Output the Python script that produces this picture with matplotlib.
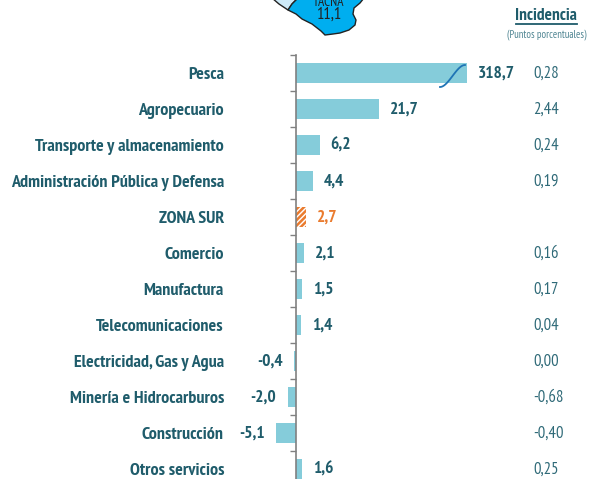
import numpy as np
import matplotlib
matplotlib.use("Agg")
import matplotlib.pyplot as plt
from matplotlib.patches import Polygon

# Datos
sectores = ["Pesca", "Agropecuario", "Transporte y almacenamiento",
            "Administración Pública y Defensa", "ZONA SUR", "Comercio",
            "Manufactura", "Telecomunicaciones", "Electricidad, Gas y Agua",
            "Minería e Hidrocarburos", "Construcción", "Otros servicios"]
variacion = [318.7, 21.7, 6.2, 4.4, 2.7, 2.1, 1.5, 1.4, -0.4, -2.0, -5.1, 1.6]
incidencia = ["0,28", "2,44", "0,24", "0,19", "", "0,16", "0,17", "0,04",
              "0,00", "-0,68", "-0,40", "0,25"]
etiquetas = ["318,7", "21,7", "6,2", "4,4", "2,7", "2,1", "1,5", "1,4",
             "-0,4", "-2,0", "-5,1", "1,6"]

W, H = 594, 479
oscuro = "#1f5c6b"
celeste = "#85ccda"
naranja = "#ea7b2e"

plt.rcParams['font.family'] = ['PT Sans Narrow', 'Liberation Sans', 'DejaVu Sans']
plt.rcParams['hatch.linewidth'] = 1.8
fig = plt.figure(figsize=(W/100, H/100), dpi=100)

# capa en pixeles para el mapa y los titulos
bg = fig.add_axes([0, 0, 1, 1])
bg.set_xlim(0, W)
bg.set_ylim(H, 0)
bg.axis("off")

mapa_tacna = [(298, -2), (292, 4), (288, 10), (296, 14), (302, 19), (312, 24), (321, 31),
              (325, 35), (333, 34), (340, 33), (349, 30), (355, 25), (356, 20), (353, 14),
              (354, 8), (360, 3), (364, -2)]
mapa_vecino = [(272, -2), (279, 4), (288, 10), (292, 4), (298, -2)]
bg.add_patch(Polygon(mapa_vecino, fc="#cdeaf8", ec="#222222", lw=1))
bg.add_patch(Polygon(mapa_tacna, fc="#00aeef", ec="#222222", lw=1))
bg.text(329, 2, "TACNA", ha="center", va="center", fontsize=9.5, color="#222222")
bg.text(329, 15, "11,1", ha="center", va="center", fontsize=12, color="#222222")

bg.text(546, 16, "Incidencia", ha="center", va="center", fontsize=12.5,
        fontweight="bold", color=oscuro)
bg.plot([516, 577], [24, 24], color=oscuro, lw=1.3)
bg.text(547, 35, "(Puntos porcentuales)", ha="center", va="center", fontsize=7.7,
        color="#4f8592")

# barras
x0, x1 = 296, 467
y0, y1 = 55, 487
ax = fig.add_axes([x0/W, 1-y1/H, (x1-x0)/W, (y1-y0)/H])
ax.patch.set_alpha(0)
escala = 83/21.7
ax.set_xlim(0, (x1-x0)/escala)
ax.set_ylim(len(sectores)-0.5, -0.5)
pos = np.arange(len(sectores))
barras = ax.barh(pos, variacion, height=0.58, color=celeste)

# las negativas salen a la izquierda del eje, asi que van sin recorte
for b, v in zip(barras, variacion):
    if v < 0:
        b.set_clip_on(False)
i_sur = sectores.index("ZONA SUR")
barras[i_sur].set_facecolor("white")
barras[i_sur].set_edgecolor(naranja)
barras[i_sur].set_hatch("//////")
barras[i_sur].set_linewidth(0)

for sp in ["top", "right", "bottom"]:
    ax.spines[sp].set_visible(False)
ax.spines["left"].set_color("#808080")
ax.spines["left"].set_linewidth(1.2)
ax.set_xticks([])
ax.set_yticks(pos-0.5)
ax.set_yticklabels([])
ax.tick_params(axis="y", length=4, width=1, color="#808080")

for i, s in enumerate(sectores):
    ax.annotate(s, (0, i), xytext=(-72, -2), textcoords="offset pixels",
                ha="right", va="center", fontsize=13, fontweight="bold", color=oscuro,
                annotation_clip=False)
    col = naranja if s == "ZONA SUR" else oscuro
    v = min(variacion[i], (x1-x0)/escala)
    if v < 0:
        off, ha = -12, "right"
    else:
        off, ha = 11, "left"
    ax.annotate(etiquetas[i], (v, i), xytext=(off, -1), textcoords="offset pixels",
                ha=ha, va="center", fontsize=12.5, fontweight="bold", color=col,
                annotation_clip=False)
    ax.annotate(incidencia[i], (0, i), xytext=(237, -1), textcoords="offset pixels",
                ha="left", va="center", fontsize=12, color="#2f6a78",
                annotation_clip=False)

# marca de corte en la barra de Pesca, encima de las barras
top = fig.add_axes([0, 0, 1, 1])
top.set_xlim(0, W)
top.set_ylim(H, 0)
top.axis("off")
t = np.linspace(0, 1, 40)
top.plot(440 + 25*t, 87 - 22*(3*t**2 - 2*t**3), color="#1f74b5", lw=1.3)

fig.savefig("out.png", dpi=100)
